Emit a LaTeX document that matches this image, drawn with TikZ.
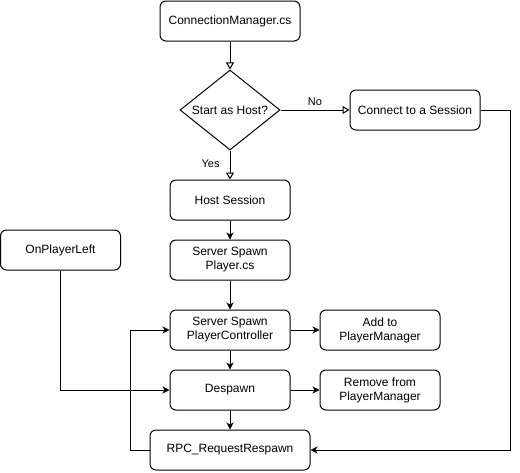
\documentclass[tikz,border=0pt]{standalone}
\usepackage{fontspec}
\setmainfont{Liberation Sans}
\usetikzlibrary{arrows.meta,shapes.geometric}
\begin{document}
\begin{tikzpicture}[x=1pt,y=-1pt,
  font=\fontsize{12}{14}\selectfont,
  box/.style={draw=black,line width=1pt,rounded corners=6pt,fill=white,
    minimum width=120pt,minimum height=40pt,inner sep=0pt,align=center},
  dec/.style={draw=black,line width=1pt,diamond,fill=white,minimum width=100pt,
    minimum height=80pt,inner sep=0pt},
  con/.style={line width=1pt,-{Stealth[length=7pt,width=7pt,inset=2pt]}},
  ocon/.style={line width=1pt,-{Triangle[open,length=7pt,width=8pt,fill=white]}},
  lbl/.style={font=\fontsize{11}{13}\selectfont,inner sep=0pt}]
\useasboundingbox (0,0) rectangle (520,472);
\node[box,minimum width=140pt] (cm) at (230,21) {ConnectionManager.cs};
\node[dec] (host) at (230,110) {\makebox[0pt]{Start as Host?}};
\node[box,minimum width=130pt] (sess) at (415,110) {Connect to a Session};
\node[box] (hs) at (230,200) {Host Session};
\node[box] (ssp) at (230,260) {Server Spawn\\Player.cs};
\node[box] (opl) at (60.5,250) {OnPlayerLeft};
\node[box] (sspc) at (230,330) {Server Spawn\\PlayerController};
\node[box] (add) at (380,330) {Add to\\PlayerManager};
\node[box] (desp) at (230,390) {Despawn};
\node[box] (rem) at (380,390) {Remove from\\PlayerManager};
\node[box,minimum width=160pt] (rpc) at (230,450) {RPC\_RequestRespawn};
\coordinate (rr) at (510,450);
\coordinate (ll) at (130,450);
\draw[ocon] (cm) -- (host);
\draw[ocon] (host.east) -- node[lbl,pos=0.5,above=4pt] (no) {No} (sess.west);
\draw[ocon] (host.south) -- node[lbl,pos=0.45,left=10pt] (yes) {Yes} (hs.north);
\draw[con] (hs) -- (ssp);
\draw[con] (ssp) -- (sspc);
\draw[con] (sspc) -- (add);
\draw[con] (sspc) -- (desp);
\draw[con] (desp) -- (rem);
\draw[con] (desp) -- (rpc);
\draw[con] (sess.east) -| (rr) -- (rpc.east);
\draw[con] (rpc.west) -- (ll) |- (sspc.west);
\draw[con] (opl.south) |- (desp.west);
\end{tikzpicture}
\end{document}
